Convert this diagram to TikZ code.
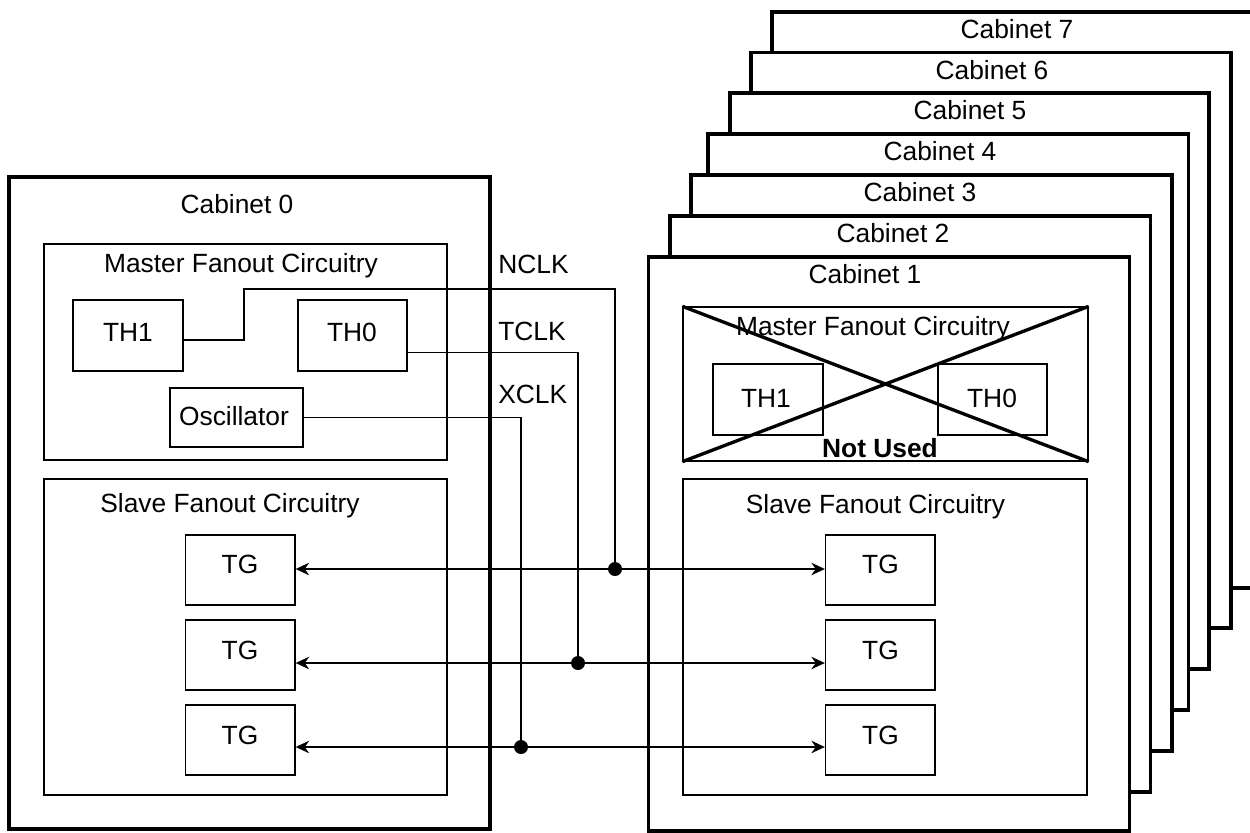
\documentclass[tikz,border=0pt]{standalone}
\usepackage{fontspec}
\setmainfont{Liberation Sans}
\usetikzlibrary{fit,calc,arrows.meta}
\begin{document}
\begin{tikzpicture}[x=0.02cm,y=-0.02cm,
  font=\fontsize{15}{18}\selectfont,
  cabinet/.style={draw,line width=1.9pt,fill=white,inner sep=0pt},
  panel/.style={draw,line width=0.75pt,inner sep=0pt},
  unit/.style={draw,line width=0.75pt,inner sep=0pt},
  lbl/.style={inner sep=0pt,anchor=base},
  sig/.style={inner sep=0pt,anchor=base west},
  wire/.style={line width=0.8pt},
  junction/.style={circle,fill=black,inner sep=0pt,minimum size=0.28cm},
  link/.style={wire,{Stealth[length=0.27cm,width=0.25cm]}-{Stealth[length=0.27cm,width=0.25cm]}},
  crossout/.style={line width=1.9pt}]

\useasboundingbox (0,0) rectangle (1250,832);
\fill[white] (0,0) rectangle (1250,832);
\clip (0,0) rectangle (1250,832);

% cabinets 7 .. 2, stacked from back to front
\foreach \n/\l/\t/\r/\b/\cx in {7/772/12/1275/588/1017, 6/751/52.5/1231/628/992,
    5/730/93/1209/669/970, 4/708/134/1188.5/710/940, 3/691/175/1172/751/920,
    2/670/216/1150.5/792/893}{
  \node[cabinet,fit={(\l,\t) (\r,\b)}] (cab\n) {};
  \node[lbl] (cab\n-t) at (\cx,\t+26.5) {Cabinet \n};
}

% cabinet 1 (front of the stack)
\node[cabinet,fit={(648.5,257) (1129.5,831)}] (cab1) {};
\node[lbl] (cab1-t) at (865,283.5) {Cabinet 1};

\node[panel,fit={(683,307) (1088,461)}] (m1) {};
\node[lbl] (m1-t) at (873,335) {Master Fanout Circuitry};
\node[unit,fit={(713,364) (823,435)}] (m1th1) {};
\node[lbl] (m1th1-t) at (766,407) {TH1};
\node[unit,fit={(938,364) (1047,435)}] (m1th0) {};
\node[lbl] (m1th0-t) at (992,407) {TH0};
\draw[crossout] (m1.north west) -- (m1.south east)
                (m1.south west) -- (m1.north east);
\node[lbl,font=\fontsize{15}{18}\selectfont\bfseries] (unused) at (880,457) {Not Used};

\node[panel,fit={(683,479) (1087,795)}] (s1) {};
\node[lbl] (s1-t) at (875.5,513) {Slave Fanout Circuitry};
\node[unit,fit={(825.5,535) (935,605)}] (tgR1) {};
\node[unit,fit={(825.5,620) (935,690)}] (tgR2) {};
\node[unit,fit={(825.5,705) (935,775)}] (tgR3) {};
\node[lbl] (tgR1-t) at (880.5,573) {TG};
\node[lbl] (tgR2-t) at (880.5,659) {TG};
\node[lbl] (tgR3-t) at (880.5,744) {TG};

% cabinet 0
\node[cabinet,fit={(9,177) (490,829)}] (cab0) {};
\node[lbl] (cab0-t) at (237,213) {Cabinet 0};

\node[panel,fit={(44,244) (447,460)}] (m0) {};
\node[lbl] (m0-t) at (241,272) {Master Fanout Circuitry};
\node[unit,fit={(73,300) (183,371)}] (th1) {};
\node[lbl] (th1-t) at (128,341) {TH1};
\node[unit,fit={(298,300) (407,371)}] (th0) {};
\node[lbl] (th0-t) at (352,341) {TH0};
\node[unit,fit={(170,388) (303,447)}] (osc) {};
\node[lbl] (osc-t) at (234,425) {Oscillator};

\node[panel,fit={(44,479) (447,795)}] (s0) {};
\node[lbl] (s0-t) at (230,512) {Slave Fanout Circuitry};
\node[unit,fit={(185.5,535) (295,605)}] (tgL1) {};
\node[unit,fit={(185.5,620) (295,690)}] (tgL2) {};
\node[unit,fit={(185.5,705) (295,775)}] (tgL3) {};
\node[lbl] (tgL1-t) at (240,573) {TG};
\node[lbl] (tgL2-t) at (240,659) {TG};
\node[lbl] (tgL3-t) at (240,744) {TG};

% clock signal names
\node[sig] (nclk) at (498,273) {NCLK};
\node[sig] (tclk) at (498,340) {TCLK};
\node[sig] (xclk) at (498,403) {XCLK};

% junctions on the distribution lines
\node[junction] (j1) at (615,569) {};
\node[junction] (j2) at (578,663) {};
\node[junction] (j3) at (521,747) {};

% clock sources to the junctions
\draw[wire] ($(th1.east)+(0,4.5)$) -| (244,289) -| (j1);
\draw[wire] ($(th0.east)+(0,17)$) -| (j2);
\draw[wire] (osc.east) -| (j3);

% distribution to the TG units of both cabinets
\draw[link] (tgL1.east |- j1) -- (tgR1.west |- j1);
\draw[link] (tgL2.east |- j2) -- (tgR2.west |- j2);
\draw[link] (tgL3.east |- j3) -- (tgR3.west |- j3);
\end{tikzpicture}
\end{document}
